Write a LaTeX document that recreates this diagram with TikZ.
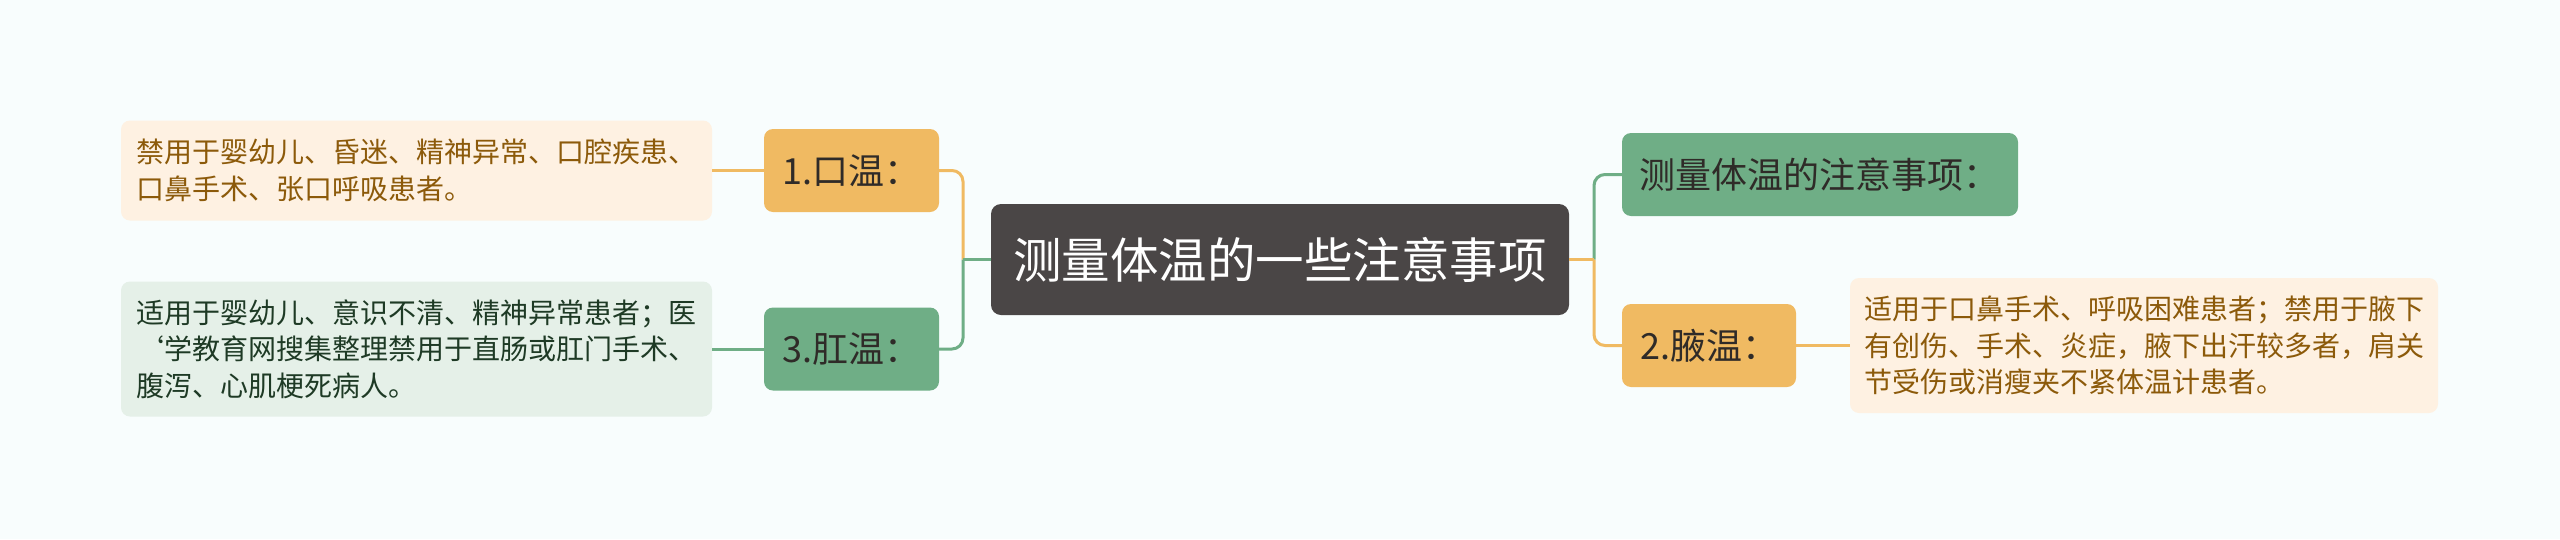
\documentclass[tikz,border=0pt]{standalone}
\usepackage{fontspec}
\setmainfont{Noto Sans CJK SC}
\definecolor{bgc}{HTML}{F8FDFD}
\definecolor{mainc}{HTML}{4A4646}
\definecolor{orc}{HTML}{F0BA62}
\definecolor{grc}{HTML}{6FAE86}
\definecolor{orleaf}{HTML}{FEF1E2}
\definecolor{grleaf}{HTML}{E5F0E8}
\definecolor{ortext}{HTML}{8C5A0A}
\definecolor{grtext}{HTML}{1E3A25}
\definecolor{darktext}{HTML}{2F2B28}
\tikzset{
  mainnode/.style={fill=mainc, rounded corners=10pt, minimum width=578pt, minimum height=111pt, inner sep=0pt, text=white, font=\fontsize{48.5}{56}\selectfont},
  lvtwo/.style={rounded corners=9pt, minimum height=83pt, inner sep=0pt, text=darktext, font=\fontsize{36}{42}\selectfont},
  leafbox/.style={rounded corners=9pt, align=left, inner sep=0pt, font=\fontsize{28}{36.5}\selectfont},
  conn/.style={line width=3pt},
}
\begin{document}
\begin{tikzpicture}[x=1pt,y=-1pt]
\fill[bgc] (0,0) rectangle (2560,539);
\useasboundingbox (0,0) rectangle (2560,539);
% central
\node[mainnode] (main) at (1280,259.5) {测量体温的一些注意事项};
% left level two
\node[lvtwo, fill=orc, minimum width=175pt] (n1) at (851.5,170.5) {1.口温：};
\node[lvtwo, fill=grc, minimum width=175pt] (n3) at (851.5,349) {3.肛温：};
% right level two
\node[lvtwo, fill=grc, minimum width=396pt, text width=362pt, align=left, inner xsep=17pt] (r1) at (1820,174.5) {测量体温的注意事项：};
\node[lvtwo, fill=orc, minimum width=174pt] (r2) at (1709,345.5) {2.腋温：};
% leaves
\node[leafbox, fill=orleaf, text=ortext, minimum width=591pt, minimum height=100pt] (l1) at (416.5,170.5) {禁用于婴幼儿、昏迷、精神异常、口腔疾患、\\口鼻手术、张口呼吸患者。};
\node[leafbox, fill=grleaf, text=grtext, minimum width=591pt, minimum height=135pt] (l3) at (416.5,349) {适用于婴幼儿、意识不清、精神异常患者；医\\{\char96}学教育网搜集整理禁用于直肠或肛门手术、\\腹泻、心肌梗死病人。};
\node[leafbox, fill=orleaf, text=ortext, minimum width=588pt, minimum height=135pt] (lr2) at (2144,345.5) {适用于口鼻手术、呼吸困难患者；禁用于腋下\\有创伤、手术、炎症，腋下出汗较多者，肩关\\节受伤或消瘦夹不紧体温计患者。};
% junctions
\coordinate (jl) at (963,259.5);
\coordinate (jr) at (1594,259.5);
% connectors left
\draw[conn, orc, rounded corners=11pt] (n1.east) -| (jl);
\draw[conn, grc, rounded corners=11pt] (n3.east) -| (jl);
\draw[conn, grc] (jl) -- (main.west);
% connectors right
\draw[conn, grc, rounded corners=11pt] (r1.west) -| (jr);
\draw[conn, orc, rounded corners=11pt] (r2.west) -| (jr);
\draw[conn, orc] (main.east) -- (jr);
% leaf connectors
\draw[conn, orc] (n1.west) -- (l1.east);
\draw[conn, grc] (n3.west) -- (l3.east);
\draw[conn, orc] (r2.east) -- (lr2.west);
\end{tikzpicture}
\end{document}
